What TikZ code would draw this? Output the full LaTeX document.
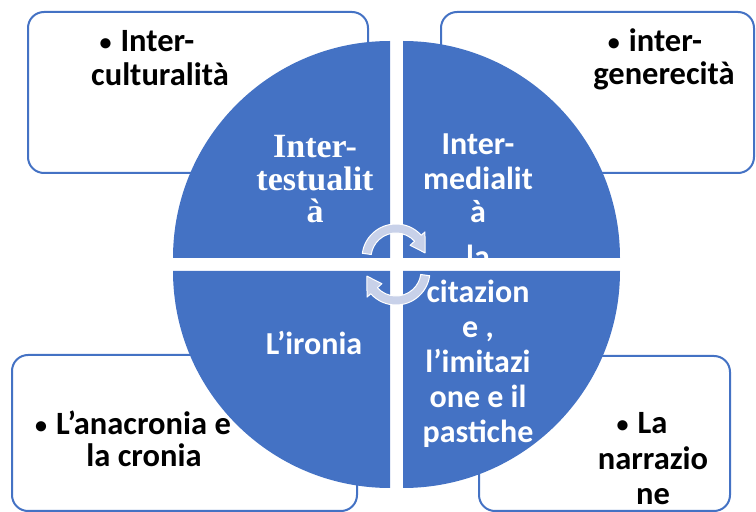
\documentclass[tikz,border=0pt]{standalone}
\usepackage{fontspec}
\setmainfont{Carlito}
\newfontfamily\serifbold{Liberation Serif}
\definecolor{qblue}{HTML}{4472C4}
\definecolor{arrowfill}{HTML}{C8D1E9}
\newcommand{\smallbul}{{\fontsize{24}{24}\selectfont\raisebox{1.5pt}{\textbullet}}\hspace{9pt}}
\begin{document}
\begin{tikzpicture}[x=1pt,y=1pt,
  box/.style={draw=qblue, line width=2pt, fill=white, rounded corners=16pt},
  quad/.style={fill=qblue},
  boxtext/.style={font=\fontsize{32.5}{35}\selectfont\bfseries, text=black, inner sep=0, anchor=base},
  quadtext/.style={font=\fontsize{32}{35}\selectfont\bfseries, text=white, inner sep=0, anchor=base},
  serifquadtext/.style={font=\serifbold\fontsize{34}{33}\selectfont\bfseries, text=white, inner sep=0, anchor=base},
  ringarrow/.style={fill=arrowfill, draw=white, line width=1pt, line join=round}]
\useasboundingbox (0,0) rectangle (756,512);
% outer boxes
\draw[box] (28,339) rectangle (368,500);
\draw[box] (441,339) rectangle (754,500);
\draw[box] (12,1) rectangle (357,157);
\draw[box] (479,1) rectangle (730,156);
% quadrants
\fill[quad] (390,254) -- (173,254) arc[start angle=180,end angle=90,radius=217] -- cycle;
\fill[quad] (403,254) -- (403,471) arc[start angle=90,end angle=0,radius=217] -- cycle;
\fill[quad] (390,241) -- (173,241) arc[start angle=180,end angle=270,radius=217] -- cycle;
\fill[quad] (403,241) -- (620,241) arc[start angle=0,end angle=-90,radius=217] -- cycle;
% box texts
\node[boxtext] (tl1) at (147,460) {\smallbul Inter-};
\node[boxtext] (tl2) at (160,426) {culturalità};
\node[boxtext] (tr1) at (655,460) {\smallbul inter-};
\node[boxtext] (tr2) at (664,427) {generecità};
\node[boxtext] (bl1) at (133,77) {\smallbul L’anacronia e};
\node[boxtext] (bl2) at (144,45) {la cronia};
\node[boxtext] (br1) at (642,78) {\smallbul La};
\node[boxtext] (br2) at (653,42) {narrazio};
\node[boxtext] (br3) at (653,7) {ne};
% quadrant texts
\node[serifquadtext] (q1a) at (315,354) {Inter-};
\node[serifquadtext] (q1b) at (315,321) {testualit};
\node[serifquadtext] (q1c) at (315,289) {à};
\node[quadtext] (q2a) at (478,357) {Inter-};
\node[quadtext] (q2b) at (478,322) {medialit};
\node[quadtext] (q2c) at (478,289) {à};
\node[quadtext] (q3a) at (478,244) {la};
\node[quadtext] (q3b) at (478,209) {citazion};
\node[quadtext] (q3c) at (478,174) {e ,};
\node[quadtext] (q3d) at (478,139) {l’imitazi};
\node[quadtext] (q3e) at (478,104) {one e il};
\node[quadtext] (q3f) at (478,69) {pastiche};
\node[quadtext] (q4a) at (314,157) {L’ironia};
% circular arrows
\begin{scope}[shift={(396,254)}]
  \draw[ringarrow] (172:34) arc[start angle=172,end angle=42,radius=34]
    -- (42:39) -- (10:29.5) -- (42:19) -- (42:25)
    arc[start angle=42,end angle=172,radius=25] -- cycle;
\end{scope}
\begin{scope}[shift={(396,241)}]
  \draw[ringarrow] (352:34) arc[start angle=352,end angle=222,radius=34]
    -- (222:39) -- (190:29.5) -- (222:19) -- (222:25)
    arc[start angle=222,end angle=352,radius=25] -- cycle;
\end{scope}
\end{tikzpicture}
\end{document}
